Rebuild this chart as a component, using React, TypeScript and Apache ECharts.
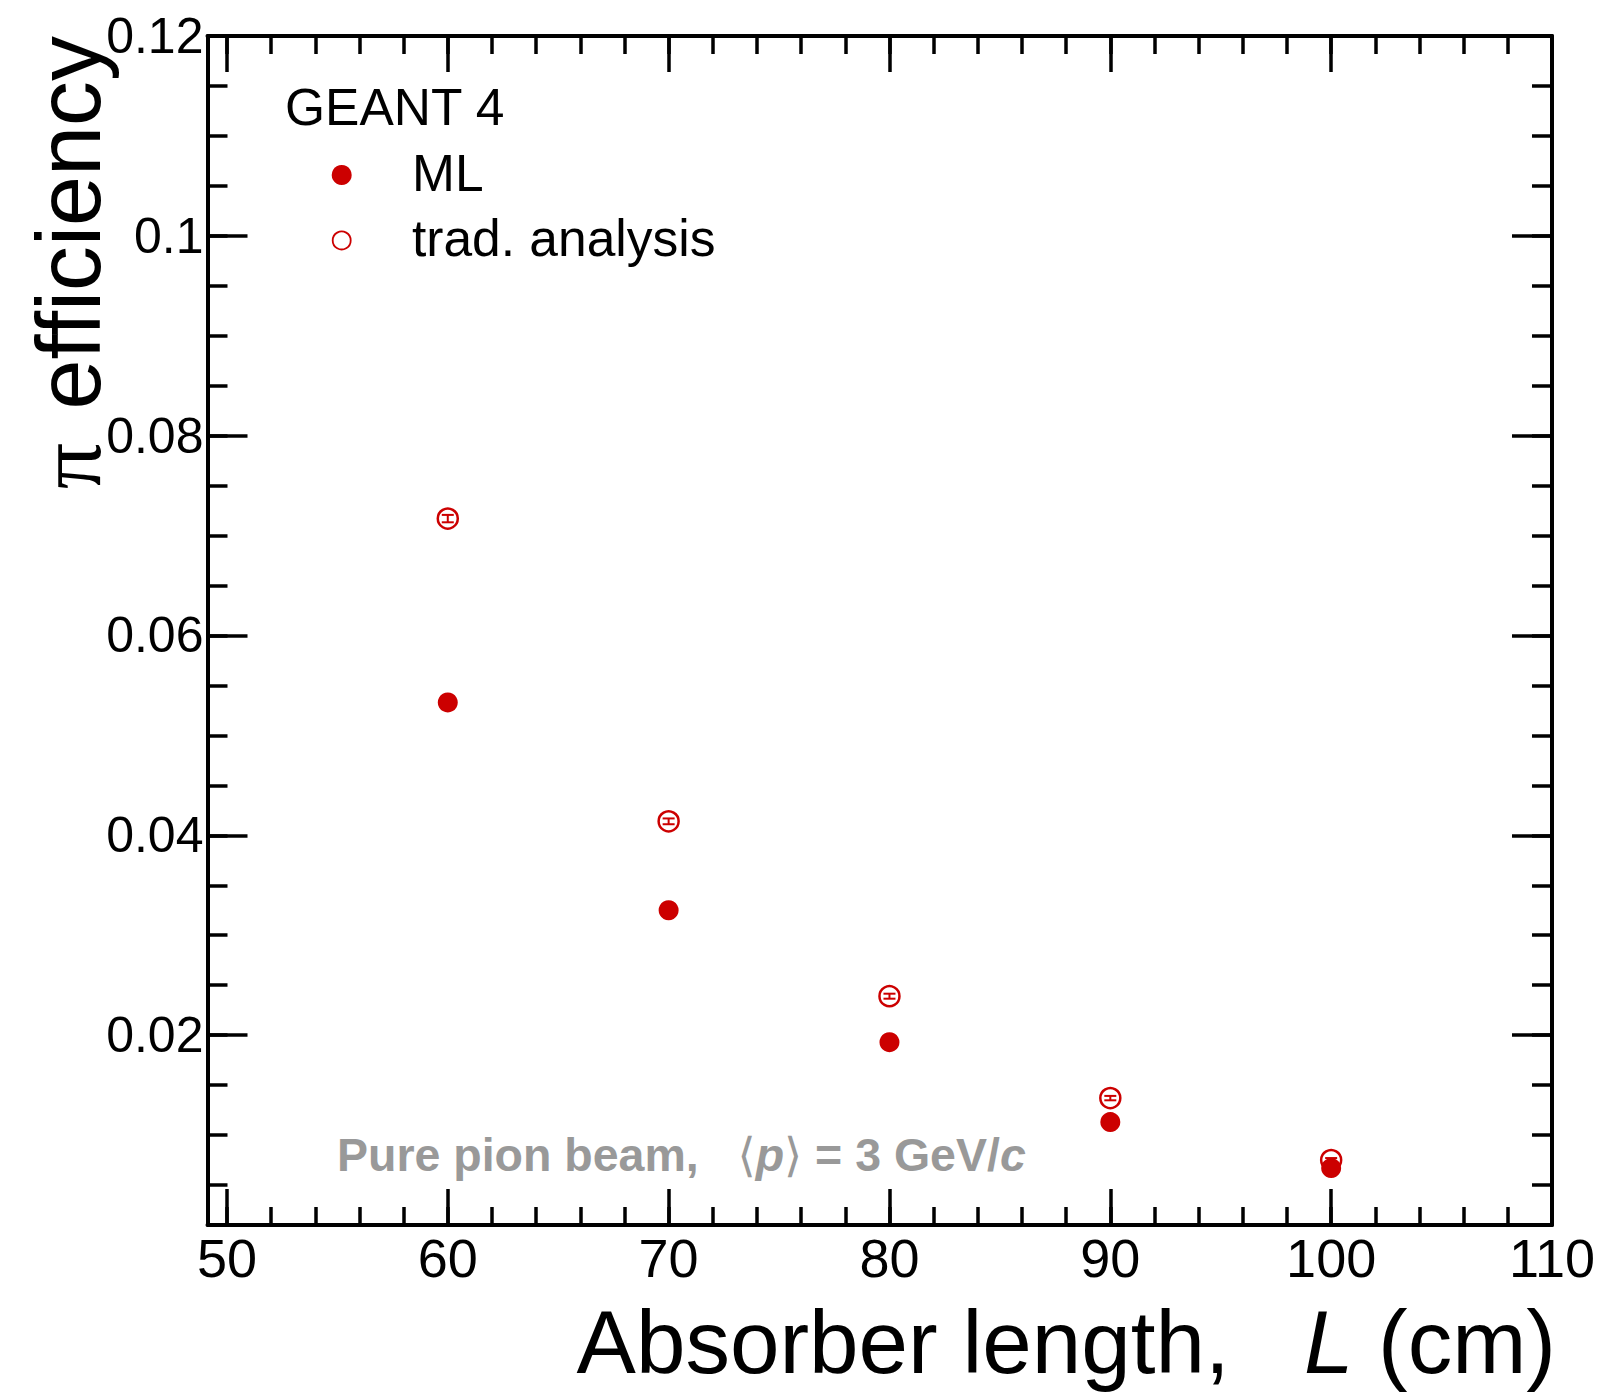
import React, { useEffect, useRef } from 'react';
import * as echarts from 'echarts';

// ---- data ----
const absorberLength = [60, 70, 80, 90, 100];
const mlEfficiency = [0.0533, 0.0325, 0.0193, 0.0113, 0.0067];
const mlError = [0.0003, 0.00025, 0.0002, 0.00015, 0.00012];
const tradEfficiency = [0.0717, 0.0414, 0.0239, 0.0137, 0.0075];
const tradError = [0.00037, 0.00029, 0.00025, 0.00022, 0.0002];

const xMajorTicks = [50, 60, 70, 80, 90, 100, 110];
const xMinorTicks = [50, 52, 54, 56, 58, 60, 62, 64, 66, 68, 70, 72, 74, 76, 78, 80, 82, 84, 86, 88, 90, 92, 94, 96, 98, 100, 102, 104, 106, 108, 110];
const yMajorTicks = [0.02, 0.04, 0.06, 0.08, 0.1, 0.12];
const yMinorTicks = [0.005, 0.01, 0.015, 0.02, 0.025, 0.03, 0.035, 0.04, 0.045, 0.05, 0.055, 0.06, 0.065, 0.07, 0.075, 0.08, 0.085, 0.09, 0.095, 0.1, 0.105, 0.11, 0.115, 0.12];

const X_MIN = 49.12;
const X_MAX = 110;
const Y_MIN = 0.001;
const Y_MAX = 0.12;

const RED = '#cc0000';
const GREY = '#999999';
const FONT = '"Liberation Sans", Arial, Helvetica, "DejaVu Sans", sans-serif';

function xAxisDef(position: string, major: boolean, withLabels: boolean, withLine: boolean) {
  return {
    type: 'value',
    position,
    min: X_MIN,
    max: X_MAX,
    splitLine: { show: false },
    axisLine: { show: withLine, onZero: false, lineStyle: { color: '#000', width: 4 } },
    axisTick: {
      show: true,
      inside: true,
      length: major ? 36 : 18,
      customValues: major ? xMajorTicks : xMinorTicks,
      lineStyle: { color: '#000', width: 3.5 },
    },
    axisLabel: withLabels
      ? {
          show: true,
          customValues: xMajorTicks,
          margin: 6,
          color: '#000',
          fontSize: 54,
          fontFamily: FONT,
          showMinLabel: true,
          showMaxLabel: true,
        }
      : { show: false },
  };
}

function yAxisDef(position: string, major: boolean, withLabels: boolean, withLine: boolean) {
  return {
    type: 'value',
    position,
    min: Y_MIN,
    max: Y_MAX,
    splitLine: { show: false },
    axisLine: { show: withLine, onZero: false, lineStyle: { color: '#000', width: 4 } },
    axisTick: {
      show: true,
      inside: true,
      length: major ? 40 : 20,
      customValues: major ? yMajorTicks : yMinorTicks,
      lineStyle: { color: '#000', width: 3.5 },
    },
    axisLabel: withLabels
      ? {
          show: true,
          customValues: yMajorTicks,
          margin: 4,
          color: '#000',
          fontSize: 50,
          fontFamily: FONT,
          showMinLabel: true,
          showMaxLabel: true,
        }
      : { show: false },
  };
}

function errorSeries(name: string, values: number[], errors: number[], z: number) {
  return {
    name,
    type: 'custom',
    xAxisIndex: 0,
    yAxisIndex: 0,
    z,
    silent: true,
    encode: { x: 0, y: 1 },
    data: absorberLength.map((x, i) => [x, values[i], errors[i]]),
    renderItem: (params: any, api: any) => {
      const x = api.value(0);
      const y = api.value(1);
      const e = api.value(2);
      const top = api.coord([x, y + e]);
      const bot = api.coord([x, y - e]);
      const hw = 6;
      const style = { stroke: RED, lineWidth: 2 };
      return {
        type: 'group',
        children: [
          { type: 'line', shape: { x1: top[0], y1: top[1], x2: bot[0], y2: bot[1] }, style },
          { type: 'line', shape: { x1: top[0] - hw, y1: top[1], x2: top[0] + hw, y2: top[1] }, style },
          { type: 'line', shape: { x1: bot[0] - hw, y1: bot[1], x2: bot[0] + hw, y2: bot[1] }, style },
        ],
      };
    },
  };
}

export default function App() {
  const ref = useRef<HTMLDivElement>(null);

  useEffect(() => {
    if (!ref.current) return;
    const chart = echarts.init(ref.current, undefined, { renderer: 'svg' });

    const option: any = {
      animation: false,
      backgroundColor: '#ffffff',
      grid: { left: 207.5, right: 52, top: 36, bottom: 167, containLabel: false },
      xAxis: [
        xAxisDef('bottom', true, true, true),
        xAxisDef('bottom', false, false, false),
        xAxisDef('top', true, false, true),
        xAxisDef('top', false, false, false),
      ],
      yAxis: [
        yAxisDef('left', true, true, true),
        yAxisDef('left', false, false, false),
        yAxisDef('right', true, false, true),
        yAxisDef('right', false, false, false),
      ],
      series: [
        errorSeries('ML errors', mlEfficiency, mlError, 1),
        {
          name: 'ML',
          type: 'scatter',
          xAxisIndex: 0,
          yAxisIndex: 0,
          z: 2,
          symbol: 'circle',
          symbolSize: 20,
          itemStyle: { color: RED, opacity: 1 },
          data: absorberLength.map((x, i) => [x, mlEfficiency[i]]),
        },
        errorSeries('trad. analysis errors', tradEfficiency, tradError, 3),
        {
          name: 'trad. analysis',
          type: 'scatter',
          xAxisIndex: 0,
          yAxisIndex: 0,
          z: 4,
          symbol: 'circle',
          symbolSize: 20,
          itemStyle: { color: 'rgba(255,255,255,0)', borderColor: RED, borderWidth: 2.5, opacity: 1 },
          data: absorberLength.map((x, i) => [x, tradEfficiency[i]]),
        },
      ],
      graphic: [
        {
          type: 'text',
          x: 285,
          y: 107,
          style: { text: 'GEANT 4', fill: '#000', fontSize: 51.5, fontFamily: FONT, textAlign: 'left', textVerticalAlign: 'middle' },
        },
        { type: 'circle', shape: { cx: 341.7, cy: 175, r: 10 }, style: { fill: RED } },
        {
          type: 'text',
          x: 412,
          y: 173.4,
          style: { text: 'ML', fill: '#000', fontSize: 51.5, fontFamily: FONT, textAlign: 'left', textVerticalAlign: 'middle' },
        },
        { type: 'circle', shape: { cx: 341.7, cy: 240.4, r: 9 }, style: { fill: 'none', stroke: RED, lineWidth: 1.8 } },
        {
          type: 'text',
          x: 412,
          y: 238,
          style: { text: 'trad. analysis', fill: '#000', fontSize: 51.5, fontFamily: FONT, textAlign: 'left', textVerticalAlign: 'middle' },
        },
        {
          type: 'text',
          x: 337,
          y: 1155,
          style: {
            text: '{b|Pure pion beam,   }{br|\u27E8}{bi|p}{br|\u27E9}{b| = 3 GeV/}{bi|c}',
            fill: GREY,
            fontSize: 46.5,
            fontFamily: FONT,
            textAlign: 'left',
            textVerticalAlign: 'middle',
            rich: {
              b: { fontSize: 46.5, fontWeight: 'bold', fontFamily: FONT, fill: GREY },
              bi: { fontSize: 46.5, fontWeight: 'bold', fontStyle: 'italic', fontFamily: FONT, fill: GREY },
              br: { fontSize: 46.5, fontWeight: 'normal', fontFamily: FONT, fill: GREY },
            },
          },
        },
        {
          type: 'text',
          x: 1556,
          y: 1342,
          style: {
            text: '{n|Absorber length,   }{i|L}{n| (cm)}',
            fill: '#000',
            fontSize: 89,
            fontFamily: FONT,
            textAlign: 'right',
            textVerticalAlign: 'middle',
            rich: {
              n: { fontSize: 89, fontFamily: FONT, fill: '#000' },
              i: { fontSize: 89, fontStyle: 'italic', fontFamily: FONT, fill: '#000' },
            },
          },
        },
        {
          type: 'text',
          x: 69,
          y: 36,
          rotation: Math.PI / 2,
          style: {
            text: '{p|\u03C0}{s|  }{n|efficiency}',
            fill: '#000',
            fontSize: 90,
            fontFamily: FONT,
            textAlign: 'right',
            textVerticalAlign: 'middle',
            rich: {
              p: { fontSize: 92, fontFamily: '"Liberation Serif", "DejaVu Serif", serif', fill: '#000' },
              s: { fontSize: 60, fontFamily: FONT, fill: '#000' },
              n: { fontSize: 90, fontFamily: FONT, fill: '#000' },
            },
          },
        },
      ],
    };

    chart.setOption(option);
    return () => {
      chart.dispose();
    };
  }, []);

  return (
    <div
      ref={ref}
      style={{ position: 'absolute', left: 0, top: 0, width: 1604, height: 1392, background: '#fff' }}
    />
  );
}
